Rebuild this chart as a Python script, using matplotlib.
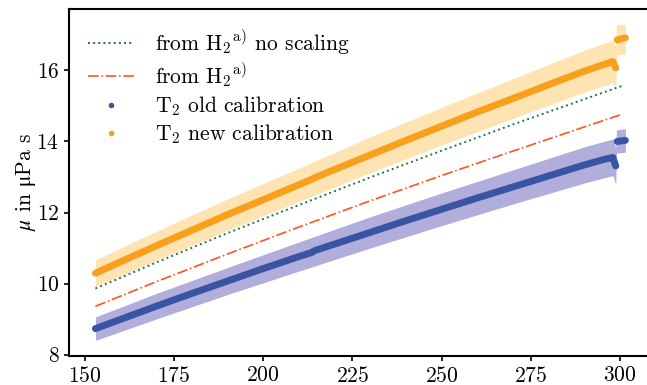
import numpy as np
import matplotlib
matplotlib.use("Agg")
import matplotlib.pyplot as plt
from matplotlib.lines import Line2D

plt.rcParams['font.family'] = ['cmr10', 'DejaVu Serif']
plt.rcParams['mathtext.fontset'] = 'cm'
plt.rcParams['axes.formatter.use_mathtext'] = True
plt.rcParams['font.size'] = 15.5

# T2 measurements (temperature in K, viscosity in uPa s)
T_main = [153, 160, 170, 180, 190, 200, 210, 213.5, 214.5, 220, 230, 240, 250,
          260, 270, 280, 290, 295, 297, 298, 298.8]
new_main = [10.29, 10.61, 11.06, 11.50, 11.94, 12.36, 12.78, 12.93, 12.98, 13.21,
            13.62, 14.03, 14.43, 14.83, 15.21, 15.60, 15.98, 16.15, 16.22, 16.25, 16.07]
old_main = [8.73, 8.99, 9.36, 9.72, 10.07, 10.42, 10.76, 10.87, 10.93, 11.11,
            11.44, 11.77, 12.09, 12.41, 12.72, 13.03, 13.34, 13.48, 13.53, 13.55, 13.31]
T_end = [299.2, 301.5]
new_end = [16.86, 16.92]
old_end = [14.00, 14.03]

# uncertainty bands
band_T = [153, 170, 190, 210, 230, 250, 270, 290, 298, 298.8, 299.0, 301.5]
new_lo = [9.91, 10.65, 11.50, 12.31, 13.12, 13.90, 14.65, 15.39, 15.65, 15.48, 16.44, 16.46]
new_hi = [10.67, 11.47, 12.38, 13.25, 14.13, 14.96, 15.77, 16.57, 16.85, 16.67, 17.28, 17.30]
old_lo = [8.40, 9.00, 9.69, 10.35, 11.00, 11.63, 12.24, 12.83, 13.04, 12.80, 13.67, 13.70]
old_hi = [9.06, 9.72, 10.45, 11.17, 11.88, 12.55, 13.20, 13.85, 14.07, 13.82, 14.33, 14.36]

# reference curves from H2
T_ref = [153, 170, 190, 210, 230, 250, 270, 290, 300.7]
h2_noscale = [9.86, 10.59, 11.42, 12.21, 12.99, 13.74, 14.48, 15.19, 15.57]
h2_scaled = [9.36, 10.05, 10.83, 11.59, 12.33, 13.04, 13.73, 14.41, 14.77]

c_new = '#f8a01e'
c_new_band = '#fee3b3'
c_old = '#3a54a4'
c_old_band = '#b1aedc'
c_green = '#24744a'
c_red = '#ff5522'

fig = plt.figure(figsize=(6.47, 3.85), dpi=100)
ax = fig.add_axes([69 / 647, 29 / 385, 581 / 647, 347 / 385])

ax.fill_between(band_T, old_lo, old_hi, color=c_old_band, lw=0, zorder=1)
ax.fill_between(band_T, new_lo, new_hi, color=c_new_band, lw=0, zorder=1)

ax.plot(T_ref, h2_noscale, ':', color=c_green, lw=1.4, zorder=3)
ax.plot(T_ref, h2_scaled, '-.', color=c_red, lw=1.2, zorder=3)

for T, y, c in [(T_main, old_main, c_old), (T_end, old_end, c_old),
                (T_main, new_main, c_new), (T_end, new_end, c_new)]:
    ax.plot(T, y, '-', color=c, lw=5, solid_capstyle='round',
            solid_joinstyle='round', zorder=2)

handles = [
    Line2D([], [], ls=':', color=c_green, lw=1.4),
    Line2D([], [], ls='-.', color=c_red, lw=1.2),
    Line2D([], [], ls='none', marker='o', ms=3, color=c_old),
    Line2D([], [], ls='none', marker='o', ms=3, color=c_new),
]
labels = [r'from H$_2$${}^{\mathrm{a)}}$ no scaling',
          r'from H$_2$${}^{\mathrm{a)}}$',
          r'T$_2$ old calibration',
          r'T$_2$ new calibration']
ax.legend(handles, labels, loc='upper left', frameon=False, handlelength=2.1,
          handletextpad=1.0, labelspacing=0.22, borderaxespad=0.5)

ax.set_xlim(145.6, 308.4)
ax.set_ylim(7.96, 17.73)
ax.set_xticks([150, 175, 200, 225, 250, 275, 300])
ax.set_yticks([8, 10, 12, 14, 16])
ax.set_ylabel(r'$\mu$ in $\mathrm{\mu}$Pa s', math_fontfamily='stix', labelpad=-1)

for s in ax.spines.values():
    s.set_linewidth(1.5)
ax.tick_params(direction='out', length=3.5, width=1.2, top=False, right=False)

fig.savefig('out.png', dpi=100)
